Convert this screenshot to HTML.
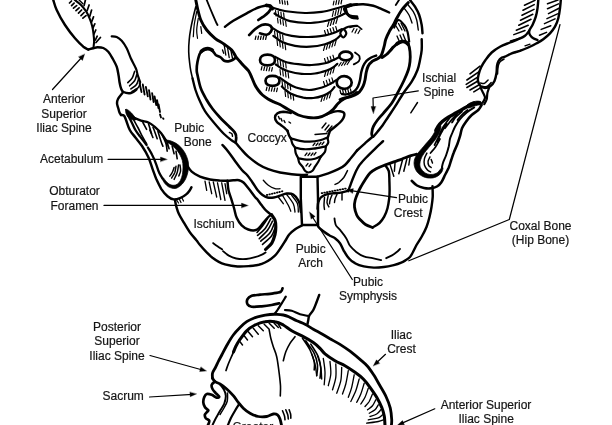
<!DOCTYPE html>
<html><head><meta charset="utf-8"><title>Pelvis</title>
<style>
html,body{margin:0;padding:0;background:#fff;}
body{width:612px;height:425px;overflow:hidden;}
svg{display:block;will-change:transform;}
svg text{font-family:"Liberation Sans",sans-serif;font-size:12px;fill:#151515;stroke:#151515;stroke-width:0.2px;}
.ink path{fill:none;stroke:#000;stroke-linecap:round;stroke-linejoin:round;}
.ink path.f{fill:#000;}
</style></head><body>
<svg width="612" height="425" viewBox="0 0 612 425">
<rect width="612" height="425" fill="#fff"/>
<g class="ink">
<path d="M53.3 0.0C53.9 1.7 54.7 5.8 56.7 10.0C58.6 14.2 61.9 20.3 65.0 25.0C68.1 29.7 71.9 34.7 75.0 38.3C78.1 41.9 81.1 44.8 83.3 46.7C85.6 48.5 87.5 49.0 88.3 49.5" stroke-width="2.44"/>
<path d="M74.8 0.0C75.8 0.8 79.1 3.1 81.0 5.0C82.9 6.9 84.5 9.0 86.0 11.2C87.5 13.5 88.7 16.2 89.8 18.8C90.8 21.2 91.6 23.8 92.2 26.2C92.9 28.8 93.2 31.2 93.5 33.8C93.8 36.2 94.1 39.0 94.1 41.2C94.1 43.5 93.6 46.5 93.5 47.5" stroke-width="2.07"/>
<path d="M71.6 5.6L74.1 3.1M73.5 8.1L76.6 5.6M76.0 10.6L79.1 7.8M78.5 13.1L81.6 10.0M81.0 15.6L84.1 12.5M82.9 18.1L86.0 15.6M69.5 3.0L71.5 1.0" stroke-width="1.71"/>
<path d="M85.4 0.0L84.1 5.6M89.1 5.0L87.2 10.6M91.6 10.0L89.8 16.2M93.5 16.9L91.6 21.9M94.8 23.8L92.9 28.1M95.8 30.0L94.0 34.0M97.2 36.2L95.4 40.0M100.4 37.5L96.0 42.5" stroke-width="1.71"/>
<path d="M79.1 0.0L82.9 3.8" stroke-width="1.46"/>
<path d="M88.3 49.5C89.1 49.3 91.8 48.7 93.3 48.3C94.8 47.9 95.8 47.2 97.5 47.2C99.2 47.2 101.5 47.2 103.3 48.0C105.1 48.8 106.8 50.0 108.3 51.7C109.8 53.4 111.1 55.8 112.5 58.3C113.9 60.8 115.7 63.9 116.7 66.7C117.7 69.5 118.0 72.5 118.5 75.0C119.0 77.5 119.1 79.8 119.5 82.0C119.9 84.2 120.3 86.6 121.0 88.3C121.7 90.0 121.8 91.2 123.5 92.0C125.2 92.8 128.8 93.4 131.0 93.0C133.2 92.6 135.6 90.1 136.5 89.5" stroke-width="2.44"/>
<path d="M111.7 36.3C112.5 36.4 115.0 36.2 116.7 37.0C118.4 37.8 120.0 38.9 121.7 40.8C123.4 42.7 125.2 45.4 126.7 48.3C128.2 51.2 129.3 55.0 130.8 58.3C132.3 61.6 134.7 65.5 135.8 68.3C137.0 71.1 137.0 72.8 137.7 75.0C138.4 77.2 139.6 80.6 140.0 81.7" stroke-width="2.20"/>
<path d="M127.8 82.6C128.5 81.9 131.0 80.1 132.1 78.2C133.2 76.4 134.2 72.5 134.6 71.4M129.6 85.8C130.4 84.9 133.4 82.6 134.6 80.8C135.8 78.9 136.4 75.5 136.8 74.5M130.9 88.9C131.8 88.2 135.2 86.3 136.5 84.5C137.8 82.7 138.4 79.3 138.8 78.2M132.1 91.4C133.2 90.8 137.0 89.2 138.4 87.6C139.8 86.0 140.2 82.9 140.5 82.0" stroke-width="1.59"/>
<path d="M139.6 83.2L141.5 92.0M142.8 84.5L144.6 94.5M145.9 87.0L147.8 96.4M149.0 90.1L150.5 99.5M152.1 93.2L153.6 102.0M154.6 96.4L156.2 105.1M157.1 100.1L158.4 108.2M158.6 104.5L160.0 112.0M160.0 114.4L161.0 117.5M163.0 118.2L163.5 118.9" stroke-width="1.83"/>
<path d="M122.5 93.0C121.8 94.0 118.9 97.3 118.0 99.0C117.1 100.7 117.0 101.8 117.0 103.3C117.0 104.8 117.9 106.8 118.3 108.3C118.7 109.8 119.0 111.4 119.5 112.5C120.0 113.6 120.8 114.6 121.0 115.0" stroke-width="2.44"/>
<path d="M121.0 115.0C121.5 115.1 123.2 114.8 124.0 115.6C124.8 116.4 125.0 117.6 126.0 120.0C127.0 122.4 128.2 127.1 129.8 130.0C131.3 132.9 133.4 134.8 135.4 137.5C137.4 140.2 139.8 142.7 142.0 146.0C144.2 149.3 146.8 153.7 148.5 157.5C150.2 161.3 151.2 165.2 152.5 168.8C153.8 172.3 154.8 175.4 156.2 178.8C157.7 182.1 159.4 185.8 161.2 188.8C163.1 191.7 165.4 194.5 167.5 196.2C169.6 198.0 171.7 199.1 173.8 199.4C175.8 199.7 177.9 198.9 180.0 198.1C182.1 197.3 184.6 195.8 186.2 194.4C187.9 193.1 189.1 191.2 190.0 190.0C190.9 188.8 191.2 187.7 191.5 187.2" stroke-width="2.44"/>
<path d="M125.6 109.4C125.9 108.7 127.4 109.6 128.3 110.2C129.2 110.8 130.4 111.8 131.3 112.8C132.2 113.8 133.1 114.9 134.0 116.0C134.9 117.1 136.5 118.5 136.5 119.2C136.5 119.9 134.9 120.0 134.0 120.0C133.1 120.0 131.9 119.8 131.0 119.3C130.1 118.8 129.1 118.1 128.3 117.3C127.5 116.5 126.8 115.5 126.3 114.2C125.8 112.9 125.3 110.1 125.6 109.4Z" class="f" stroke-width="0.73"/>
<path d="M134.0 117.8C135.2 118.3 138.6 119.8 141.0 120.6C143.4 121.4 146.2 121.5 148.5 122.5C150.8 123.5 152.7 125.1 154.8 126.9C156.8 128.7 159.1 130.8 161.0 133.1C162.9 135.4 165.2 139.3 166.0 140.5" stroke-width="2.32"/>
<path d="M166.0 140.0C166.8 139.9 169.3 140.4 171.0 141.0C172.7 141.6 174.4 142.3 176.0 143.3C177.6 144.3 179.3 145.6 180.8 147.2C182.3 148.8 183.8 150.9 185.0 153.0C186.2 155.1 187.2 157.8 187.8 160.0C188.4 162.2 188.6 163.9 188.6 166.0C188.6 168.1 188.3 170.3 187.8 172.5C187.3 174.7 186.6 177.0 185.6 179.0C184.6 181.0 183.3 182.9 182.0 184.3C180.7 185.8 178.9 187.0 177.5 187.7C176.1 188.4 175.0 188.7 173.5 188.5C172.0 188.3 170.0 187.7 168.5 186.8C167.0 185.9 165.6 184.4 164.5 183.0C163.4 181.6 162.2 179.3 162.0 178.5C161.8 177.7 162.8 177.4 163.5 178.0C164.2 178.6 165.4 180.7 166.5 181.8C167.6 182.9 168.8 184.0 170.0 184.6C171.2 185.2 172.8 185.4 174.0 185.3C175.2 185.2 176.4 184.8 177.5 184.0C178.6 183.2 179.7 181.9 180.5 180.3C181.3 178.7 182.0 176.7 182.4 174.5C182.8 172.3 183.0 169.3 183.0 167.0C183.0 164.7 182.8 162.4 182.3 160.5C181.9 158.6 181.1 157.1 180.3 155.5C179.5 153.9 178.6 152.4 177.5 151.0C176.4 149.6 175.1 148.2 173.8 147.0C172.6 145.8 171.3 144.9 170.0 144.0C168.7 143.1 166.7 142.3 166.0 141.6C165.3 140.9 165.2 140.1 166.0 140.0Z" class="f" stroke-width="0.73"/>
<path d="M128.5 116.2C129.1 117.4 130.8 120.7 132.0 123.0C133.2 125.3 134.1 127.8 135.4 130.0C136.7 132.2 138.2 134.2 139.8 136.2C141.3 138.3 143.6 141.0 144.8 142.5C145.9 144.0 146.3 144.6 146.6 145.0" stroke-width="2.32"/>
<path d="M147.9 147.5C148.6 148.8 150.9 152.3 152.2 155.0C153.6 157.7 154.9 160.8 156.0 163.8C157.1 166.7 158.0 170.0 159.1 172.5C160.2 175.0 161.9 177.5 162.5 178.5" stroke-width="2.32"/>
<path d="M133.5 119.4C134.2 120.8 136.4 124.7 137.9 127.5C139.4 130.3 140.8 133.5 142.2 136.2C143.7 139.0 145.9 142.5 146.6 143.8" stroke-width="1.59"/>
<path d="M142.9 122.5L146.6 129.4M148.5 123.8L151.6 133.8M153.0 127.5C153.2 127.9 153.4 128.1 154.1 130.0C154.8 131.9 156.7 137.3 157.2 138.8M157.9 131.2C158.4 132.9 160.2 138.8 161.0 141.2C161.8 143.8 162.6 145.4 162.9 146.2M162.2 135.0C162.9 136.5 165.2 141.0 166.0 143.8C166.8 146.5 167.0 150.0 167.2 151.2M167.2 142.5L169.1 148.8M172.2 146.2L174.1 153.8M176.0 151.2L177.2 158.8" stroke-width="1.59"/>
<path d="M149.8 130.0L152.9 137.5" stroke-width="1.59"/>
<path d="M169.8 176.2C170.2 175.6 171.5 174.0 172.2 172.5C173.0 171.0 173.8 168.3 174.1 167.5M171.6 178.1C172.1 177.2 174.0 174.5 174.8 172.5C175.5 170.5 175.8 167.3 176.0 166.2M174.1 179.4C174.6 178.2 176.5 174.9 177.2 172.5C178.0 170.1 178.3 166.2 178.5 165.0M180.0 165.0C180.1 166.0 180.8 169.2 180.6 171.0C180.4 172.8 179.1 175.2 178.8 176.0" stroke-width="1.46"/>
<path d="M272.5 7.6C273.6 7.9 276.4 8.9 279.0 9.6C281.6 10.2 284.0 10.9 288.3 11.5C292.6 12.1 299.4 12.9 305.0 13.0C310.6 13.1 316.7 12.6 321.7 11.9C326.7 11.2 331.3 9.8 335.0 8.8C338.7 7.8 342.5 6.5 344.0 6.0" stroke-width="2.20"/>
<path d="M274.5 13.5C275.6 14.2 278.4 16.2 281.0 17.5C283.6 18.8 285.7 20.3 290.0 21.2C294.3 22.1 301.5 22.9 307.0 23.0C312.5 23.1 318.5 22.2 323.0 21.5C327.5 20.8 330.8 19.6 334.0 18.5C337.2 17.4 340.0 15.9 342.0 15.0C344.0 14.1 345.3 13.3 346.0 13.0" stroke-width="2.20"/>
<path d="M271.7 27.5C273.1 28.3 276.7 31.1 280.0 32.5C283.3 33.9 287.0 35.0 291.7 35.8C296.4 36.5 302.8 37.1 308.3 37.0C313.9 36.9 320.6 36.0 325.0 35.3C329.4 34.5 332.2 33.5 335.0 32.5C337.8 31.5 340.6 29.8 341.7 29.2" stroke-width="2.20"/>
<path d="M273.3 35.8C274.7 36.8 278.1 40.0 281.7 41.7C285.3 43.4 290.3 45.0 295.0 45.8C299.7 46.6 305.0 47.0 310.0 46.7C315.0 46.4 320.8 45.3 325.0 44.2C329.2 43.1 332.5 41.4 335.0 40.0C337.5 38.6 339.2 36.5 340.0 35.8" stroke-width="2.20"/>
<path d="M275.0 56.7C276.7 57.5 281.1 60.5 285.0 61.7C288.9 63.0 293.9 63.7 298.3 64.2C302.8 64.8 307.2 65.2 311.7 65.0C316.1 64.8 321.4 64.1 325.0 63.3C328.6 62.5 331.1 61.0 333.3 60.0C335.5 59.0 337.5 57.9 338.3 57.5" stroke-width="2.20"/>
<path d="M275.8 64.5C276.7 65.1 278.9 66.9 281.0 68.0C283.1 69.1 284.9 70.2 288.3 71.2C291.8 72.2 297.2 73.4 301.7 73.8C306.1 74.2 310.8 74.0 315.0 73.5C319.2 73.0 323.7 71.5 326.7 70.5C329.7 69.5 331.2 68.6 333.0 67.5C334.8 66.4 336.6 64.4 337.3 63.8" stroke-width="2.20"/>
<path d="M279.5 77.5C280.8 78.4 284.2 81.1 287.0 82.8C289.8 84.5 292.3 86.3 296.0 87.5C299.7 88.7 304.7 90.0 309.0 90.0C313.3 90.0 318.3 88.6 322.0 87.5C325.7 86.4 328.6 84.8 331.0 83.5C333.4 82.2 335.6 80.6 336.5 80.0" stroke-width="2.20"/>
<path d="M281.8 86.5C283.2 87.7 286.9 91.7 290.5 93.5C294.1 95.3 299.5 96.8 303.3 97.6C307.1 98.3 310.0 98.3 313.3 98.0C316.6 97.7 320.5 96.6 323.3 95.6C326.1 94.6 328.1 93.4 330.0 92.0C331.9 90.6 333.8 87.8 334.5 87.0" stroke-width="2.20"/>
<path d="M266.5 5.4C267.1 5.5 269.0 5.5 270.0 6.0C271.0 6.5 271.9 8.2 272.3 8.6" stroke-width="3.66"/>
<path d="M258.3 20.0C259.1 19.4 261.6 17.9 263.3 16.7C265.0 15.4 267.0 13.9 268.3 12.5C269.6 11.1 270.6 9.0 271.0 8.3" stroke-width="2.68"/>
<path d="M249.2 35.0C250.2 34.0 252.9 30.9 255.0 29.2C257.1 27.5 259.5 25.8 261.7 25.0C263.9 24.2 266.6 24.3 268.3 24.7C270.0 25.1 271.3 26.3 271.7 27.5C272.1 28.7 271.6 30.5 270.8 31.7C270.0 32.9 268.5 34.4 266.7 34.7C264.9 35.0 261.1 33.5 260.0 33.3" stroke-width="2.68"/>
<path d="M267.5 54.7C269.3 54.7 271.8 55.1 273.0 56.0C274.2 56.9 275.0 58.7 275.0 60.0C275.0 61.3 274.2 63.1 273.0 64.0C271.8 64.9 269.3 65.3 267.5 65.3C265.7 65.3 263.2 64.9 262.0 64.0C260.8 63.1 260.0 61.3 260.0 60.0C260.0 58.7 260.8 56.9 262.0 56.0C263.2 55.1 265.7 54.7 267.5 54.7Z" stroke-width="2.68"/>
<path d="M272.5 75.8C274.2 75.8 276.3 76.2 277.5 77.0C278.7 77.8 279.5 79.5 279.5 80.8C279.5 82.1 278.7 83.8 277.5 84.6C276.3 85.4 274.2 85.8 272.5 85.8C270.8 85.8 268.7 85.4 267.5 84.6C266.3 83.8 265.5 82.1 265.5 80.8C265.5 79.5 266.3 77.8 267.5 77.0C268.7 76.2 270.8 75.8 272.5 75.8Z" stroke-width="2.68"/>
<path d="M350.5 5.0C349.8 5.2 347.4 5.6 346.5 6.2C345.6 6.8 345.1 8.4 344.8 8.8" stroke-width="3.66"/>
<path d="M357.0 4.2L350.0 5.0" stroke-width="2.44"/>
<path d="M357.0 16.7C355.8 16.6 351.8 16.5 350.0 15.8C348.2 15.1 347.0 13.6 346.0 12.5C345.0 11.4 344.5 9.8 344.2 9.2" stroke-width="2.68"/>
<path d="M343.3 29.2C344.3 29.2 346.3 31.9 346.3 33.3C346.3 34.7 344.3 37.5 343.3 37.5C342.3 37.5 340.3 34.7 340.3 33.3C340.3 31.9 342.3 29.2 343.3 29.2Z" stroke-width="2.20"/>
<path d="M357.0 25.8C355.6 25.9 350.6 26.1 348.3 26.7C346.0 27.3 344.1 28.8 343.3 29.2" stroke-width="2.20"/>
<path d="M345.8 51.6C347.3 51.6 349.3 52.1 350.4 52.8C351.5 53.5 352.3 54.9 352.3 56.0C352.3 57.1 351.5 58.5 350.4 59.2C349.3 59.9 347.3 60.4 345.8 60.4C344.3 60.4 342.3 59.9 341.2 59.2C340.1 58.5 339.3 57.1 339.3 56.0C339.3 54.9 340.1 53.5 341.2 52.8C342.3 52.1 344.3 51.6 345.8 51.6Z" stroke-width="2.68"/>
<path d="M344.2 76.2C346.0 76.2 348.2 77.0 349.5 78.0C350.8 79.0 351.7 81.0 351.7 82.5C351.7 84.0 350.8 86.0 349.5 87.0C348.2 88.0 346.0 88.8 344.2 88.8C342.4 88.8 340.1 88.0 338.9 87.0C337.6 86.0 336.7 84.0 336.7 82.5C336.7 81.0 337.6 79.0 338.9 78.0C340.1 77.0 342.4 76.2 344.2 76.2Z" stroke-width="2.68"/>
<path d="M195.8 0.0C196.1 1.4 196.7 5.0 197.5 8.3C198.3 11.6 199.3 16.4 200.8 20.0C202.3 23.6 204.3 26.9 206.7 30.0C209.1 33.0 212.1 35.9 215.0 38.3C217.9 40.7 221.4 42.2 224.2 44.2C227.0 46.2 229.8 48.0 231.7 50.0C233.6 52.0 234.5 54.5 235.5 56.0C236.5 57.5 236.2 57.2 237.5 58.8C238.8 60.2 241.1 62.9 243.0 65.0C244.9 67.1 247.2 69.1 248.8 71.2C250.2 73.4 251.0 75.7 252.0 78.0C253.0 80.3 253.9 82.9 255.0 85.0C256.1 87.1 257.2 88.8 258.5 90.5C259.8 92.2 260.9 93.6 262.5 95.0C264.1 96.4 266.1 97.8 268.0 99.0C269.9 100.2 271.8 101.0 273.8 101.9C275.8 102.8 277.6 103.2 280.0 104.5C282.4 105.8 285.2 107.8 288.3 109.5C291.4 111.2 295.0 113.7 298.3 115.0C301.6 116.3 305.0 117.1 308.3 117.5C311.6 117.9 315.2 118.0 318.3 117.5C321.4 117.0 324.2 115.6 326.7 114.2C329.2 112.8 331.4 111.0 333.3 109.2C335.2 107.4 336.4 105.1 338.3 103.3C340.2 101.5 342.5 99.7 345.0 98.3C347.5 96.9 351.3 96.0 353.3 95.0C355.3 94.0 356.4 92.9 357.0 92.5" stroke-width="2.93"/>
<path d="M195.8 6.7C195.4 8.4 194.1 13.1 193.3 16.7C192.5 20.3 191.5 24.4 190.8 28.3C190.1 32.2 189.5 36.1 189.2 40.0C188.8 43.9 188.6 47.8 188.7 51.7C188.8 55.6 189.3 60.1 189.7 63.3C190.0 66.5 190.3 68.3 190.8 70.8C191.3 73.3 192.2 77.0 192.5 78.3" stroke-width="1.59"/>
<path d="M192.5 78.3C193.0 80.2 194.3 86.4 195.5 90.0C196.7 93.6 197.8 96.5 199.4 100.0C201.0 103.5 202.6 107.5 205.0 111.2C207.4 115.0 210.6 118.8 213.8 122.5C216.9 126.2 220.8 130.8 223.8 133.8C226.7 136.7 229.2 138.5 231.2 140.0C233.3 141.5 235.2 142.5 236.0 143.0" stroke-width="2.32"/>
<path d="M196.7 11.7C196.3 13.9 194.8 20.8 194.2 25.0C193.6 29.2 193.5 34.8 193.3 36.7M198.3 18.3C198.0 20.2 196.8 26.7 196.7 30.0C196.6 33.3 197.4 36.9 197.5 38.3M200.8 26.7L201.7 33.3" stroke-width="1.22"/>
<path d="M206.7 0.0C207.4 1.7 209.3 6.4 210.8 10.0C212.3 13.6 214.7 19.2 215.8 21.7C216.9 24.2 217.2 24.4 217.5 25.0" stroke-width="1.83"/>
<path d="M225.0 26.7C226.4 25.7 229.7 23.0 233.3 20.8C236.9 18.6 242.5 15.5 246.7 13.3C250.9 11.1 255.0 8.8 258.3 7.5C261.6 6.2 265.3 5.7 266.7 5.3" stroke-width="2.44"/>
<path d="M235.8 57.5C235.2 57.9 233.8 59.4 232.5 60.0C231.2 60.6 229.7 61.2 228.3 61.3C226.9 61.4 225.4 61.4 224.2 60.8C222.9 60.2 222.2 58.5 220.8 57.5C219.4 56.5 217.1 56.0 215.8 55.0C214.6 54.0 214.3 52.7 213.3 51.7C212.3 50.7 211.4 49.6 210.0 49.2C208.6 48.8 206.7 48.5 205.0 49.2C203.3 49.9 201.2 51.2 200.0 53.3C198.8 55.4 198.1 58.9 197.5 61.7C196.9 64.5 196.7 67.8 196.7 70.0C196.7 72.2 196.8 72.0 197.5 75.0C198.2 78.0 199.3 84.1 200.8 88.3C202.3 92.5 204.8 96.6 206.7 100.0C208.6 103.4 210.3 105.8 212.5 108.8C214.7 111.7 217.3 114.6 220.0 117.5C222.7 120.4 226.3 123.8 228.8 126.2C231.2 128.7 233.2 130.1 234.4 131.9C235.7 133.7 236.1 135.1 236.2 136.9C236.4 138.7 235.7 141.6 235.6 142.5" stroke-width="2.68"/>
<path d="M229.4 132.5C229.8 132.7 231.4 133.1 231.9 133.8C232.4 134.4 232.4 135.8 232.5 136.2" stroke-width="1.46"/>
<path d="M224.2 45.0L225.8 55.0M227.5 47.5L229.2 57.5M230.8 50.0L232.5 58.3M222.5 50.0L223.7 53.3" stroke-width="1.34"/>
<path d="M236.0 143.0C236.8 144.0 238.9 146.7 241.0 149.0C243.1 151.3 245.4 154.2 248.3 156.7C251.2 159.2 255.0 162.1 258.3 164.2C261.6 166.3 264.7 167.8 268.3 169.2C271.9 170.6 276.1 171.7 280.0 172.5C283.9 173.3 288.1 173.8 291.7 174.2C295.3 174.6 299.1 174.9 301.7 175.0C304.2 175.1 306.1 174.8 307.0 174.7" stroke-width="2.44"/>
<path d="M222.5 145.0C223.5 146.1 226.2 149.0 228.3 151.7C230.4 154.4 232.7 157.9 235.0 161.0C237.3 164.1 239.8 167.6 241.9 170.0C244.0 172.4 245.7 173.4 247.5 175.5C249.3 177.6 250.8 180.1 252.5 182.5C254.2 184.9 255.8 187.9 257.5 190.0C259.2 192.1 260.8 193.8 262.5 195.0C264.2 196.2 265.6 197.1 267.5 197.5C269.4 197.9 271.7 197.8 273.8 197.5C275.8 197.2 277.8 196.3 280.0 195.6C282.2 194.9 284.5 193.7 286.7 193.5C288.9 193.3 291.4 193.4 293.3 194.5C295.2 195.6 297.2 198.5 298.3 200.3C299.4 202.1 299.6 203.4 300.0 205.3C300.4 207.2 300.7 210.9 300.8 212.0" stroke-width="2.44"/>
<path d="M290.8 113.0C289.6 112.8 285.5 111.7 283.3 111.7C281.1 111.8 278.9 112.3 277.5 113.3C276.1 114.3 275.1 116.1 275.0 117.5C274.9 118.9 275.7 120.5 276.7 121.7C277.7 123.0 279.4 123.9 280.8 125.0C282.2 126.1 283.9 127.3 285.0 128.3C286.1 129.3 287.1 130.4 287.5 130.8" stroke-width="2.44"/>
<path d="M326.7 114.2C327.8 113.8 331.1 112.2 333.3 111.7C335.5 111.2 338.2 111.0 340.0 111.3C341.8 111.6 343.6 112.1 344.2 113.3C344.8 114.5 344.0 116.8 343.3 118.3C342.6 119.8 341.4 121.1 340.0 122.5C338.6 123.9 336.7 125.3 335.0 126.7C333.3 128.1 330.8 130.1 330.0 130.8" stroke-width="2.44"/>
<path d="M290.8 138.3C292.3 138.7 296.8 140.2 300.0 140.8C303.2 141.4 306.7 141.8 310.0 141.7C313.3 141.6 317.1 141.0 320.0 140.3C322.9 139.6 326.2 138.0 327.5 137.5" stroke-width="2.20"/>
<path d="M290.8 138.3C291.1 139.2 291.8 142.5 292.5 144.0C293.2 145.5 294.6 146.9 295.0 147.5" stroke-width="2.20"/>
<path d="M327.5 138.3C327.6 139.0 328.6 141.1 328.3 142.5C328.0 143.9 326.2 145.8 325.8 146.5" stroke-width="2.20"/>
<path d="M295.0 147.5C296.4 147.8 300.2 149.0 303.3 149.2C306.4 149.4 309.6 149.2 313.3 148.7C317.1 148.2 323.7 146.7 325.8 146.3" stroke-width="2.20"/>
<path d="M295.0 147.5C295.1 148.5 295.2 151.5 295.8 153.3C296.4 155.1 297.9 157.5 298.3 158.3" stroke-width="2.20"/>
<path d="M325.8 146.5C325.7 147.4 325.8 150.0 325.0 151.7C324.2 153.4 321.5 155.9 320.8 156.7" stroke-width="2.20"/>
<path d="M298.3 158.3C299.7 158.5 303.9 159.6 306.7 159.7C309.5 159.8 312.6 159.3 315.0 158.7C317.4 158.1 319.8 156.7 320.8 156.3" stroke-width="2.20"/>
<path d="M298.3 158.3C298.4 159.0 298.5 161.1 299.2 162.5C299.9 163.9 301.5 165.3 302.5 166.7C303.5 168.1 304.0 169.8 305.0 170.8C306.0 171.8 307.1 172.5 308.3 172.5C309.6 172.5 311.4 171.8 312.5 170.8C313.6 169.8 314.0 168.2 315.0 166.7C316.0 165.2 317.3 163.4 318.3 161.7C319.3 160.0 320.4 157.5 320.8 156.7" stroke-width="2.20"/>
<path d="M287.5 130.8C287.8 131.6 288.6 134.6 289.2 135.8C289.8 137.1 290.5 137.9 290.8 138.3" stroke-width="2.44"/>
<path d="M330.0 130.8C329.7 131.6 328.7 134.6 328.3 135.8C327.9 137.1 327.6 137.9 327.5 138.3" stroke-width="2.44"/>
<path d="M278.5 116.5L279.5 119.0M281.0 118.5L282.0 121.0M284.0 120.5L285.0 122.5M289.0 122.0L290.5 123.0" stroke-width="1.46"/>
<path d="M322.0 128.0L326.0 123.0M325.0 130.0L329.0 125.0M327.0 132.0L332.0 126.0M315.0 134.5L327.0 133.5" stroke-width="1.34"/>
<path d="M313.0 145.5L315.0 143.0M316.0 145.5L318.0 143.0M319.0 145.0L321.0 142.5M322.0 144.5L324.0 142.0" stroke-width="1.22"/>
<path d="M305.0 155.5L307.0 153.0M308.0 155.5L310.0 153.0M311.0 155.5L313.0 153.0M314.0 155.0L316.0 152.5" stroke-width="1.22"/>
<path d="M306.0 166.0L308.0 163.5M309.0 166.5L311.0 164.0" stroke-width="1.22"/>
<path d="M300.8 176.7L300.8 198.3L302.0 225.0L318.0 225.0L318.0 198.3L317.5 176.7L300.8 176.7" stroke-width="2.44"/>
<path d="M317.5 176.7C319.3 176.1 324.8 174.6 328.3 173.3C331.8 172.1 335.5 170.6 338.3 169.2C341.1 167.8 342.9 166.9 345.0 165.0C347.1 163.1 349.0 160.4 351.0 158.0C353.0 155.6 356.0 151.8 357.0 150.5" stroke-width="2.44"/>
<path d="M186.7 165.0C187.5 166.1 189.5 169.8 191.7 171.7C193.9 173.6 196.9 175.4 200.0 176.7C203.1 178.0 206.7 178.8 210.0 179.5C213.3 180.2 217.1 180.4 220.0 180.6C222.9 180.8 225.3 180.9 227.5 180.8C229.7 180.8 231.4 180.4 233.3 180.3C235.2 180.2 237.3 179.8 239.0 180.2C240.7 180.6 241.9 181.1 243.5 182.5C245.1 183.9 246.8 186.3 248.8 188.8C250.7 191.2 253.5 195.2 255.0 197.0C256.5 198.8 256.4 198.1 257.5 199.5C258.6 200.9 260.2 203.4 261.7 205.3C263.2 207.2 265.0 209.6 266.7 211.2C268.4 212.8 270.9 214.4 271.7 215.0" stroke-width="2.44"/>
<path d="M227.5 180.8C227.7 182.4 227.8 187.1 228.5 190.3C229.2 193.6 230.8 197.2 231.7 200.3C232.6 203.4 233.4 205.8 234.2 208.7C235.0 211.6 235.4 215.0 236.7 217.8C237.9 220.6 239.8 223.4 241.7 225.3C243.6 227.2 246.1 228.7 248.3 229.5C250.5 230.3 253.2 230.6 255.0 230.3C256.8 230.0 257.8 229.1 259.2 227.8C260.6 226.6 261.8 224.6 263.3 222.8C264.8 221.0 266.9 218.4 268.3 217.0C269.7 215.6 271.1 214.9 271.7 214.5" stroke-width="2.44"/>
<path d="M271.7 215.0C272.2 215.9 274.3 218.3 275.0 220.3C275.7 222.3 275.8 224.6 275.8 227.0C275.8 229.4 275.7 231.8 275.0 234.5C274.3 237.2 273.3 240.8 271.8 243.2C270.2 245.8 266.5 248.5 265.5 249.5" stroke-width="3.17"/>
<path d="M257.5 235.3C258.8 234.2 262.8 231.5 265.0 228.7C267.2 225.9 269.8 220.4 270.8 218.7M259.2 238.7C260.6 237.3 265.3 233.2 267.5 230.3C269.7 227.4 271.7 222.7 272.5 221.2M260.8 241.2C262.3 239.8 267.8 235.7 270.0 232.8C272.2 229.9 273.5 225.2 274.2 223.7M262.5 244.5C264.0 243.1 269.4 238.8 271.5 236.0C273.6 233.2 274.4 229.3 275.0 228.0M257.0 232.5C257.9 231.4 260.8 228.3 262.5 226.0C264.2 223.7 266.7 219.8 267.5 218.5" stroke-width="1.59"/>
<path d="M263.3 180.3C264.1 181.1 266.4 183.9 268.3 185.3C270.2 186.7 273.1 188.1 275.0 188.7C276.9 189.3 279.2 188.7 280.0 188.7" stroke-width="1.34"/>
<path d="M266.9 195.0L267.4 194.9M269.4 194.4L269.9 194.3M271.9 193.8L272.4 193.7M274.4 193.2L274.9 193.1M276.9 192.6L277.4 192.5M279.4 192.0L279.9 191.9M281.9 191.4L282.4 191.3" stroke-width="1.83"/>
<path d="M278.3 197.0L283.3 203.7M282.5 195.3C283.5 197.0 286.9 202.7 288.3 205.3C289.7 208.0 290.4 210.2 290.8 211.2M286.7 194.5C287.8 196.0 291.9 200.8 293.3 203.7C294.7 206.6 294.7 210.6 295.0 212.0M291.7 195.3C292.7 196.7 296.4 200.9 297.5 203.7C298.6 206.5 298.2 210.6 298.3 212.0" stroke-width="1.34"/>
<path d="M205.0 181.2L206.7 190.3M209.2 182.0L211.7 193.7M213.3 182.0L216.7 197.0M217.5 182.8L220.8 199.5M221.7 182.8L225.0 200.3M225.0 183.7L226.7 193.7" stroke-width="1.34"/>
<path d="M175.0 200.0C175.2 201.0 175.6 204.0 176.2 206.2C176.9 208.5 177.5 211.0 178.8 213.8C180.0 216.5 181.9 219.4 183.8 222.5C185.6 225.6 187.9 229.6 190.0 232.5C192.1 235.4 194.6 237.9 196.2 240.0C197.9 242.1 198.3 243.0 200.0 245.0C201.7 247.0 204.2 249.8 206.2 251.9C208.3 254.0 210.4 256.1 212.5 257.8C214.6 259.4 216.7 260.8 218.8 261.9C220.8 263.0 221.9 263.6 225.0 264.4C228.1 265.2 233.3 266.2 237.5 266.5C241.7 266.8 246.5 266.3 250.0 266.0C253.5 265.7 256.2 265.3 258.8 264.8C261.2 264.2 262.9 263.5 265.0 262.5C267.1 261.5 269.4 260.1 271.2 258.8C273.1 257.4 274.4 256.4 276.0 254.5C277.6 252.6 279.4 249.8 281.0 247.5C282.6 245.2 284.1 242.7 285.5 240.5C286.9 238.3 287.6 236.4 289.2 234.5C290.9 232.6 293.4 230.5 295.5 229.0C297.6 227.5 300.9 226.1 302.0 225.5" stroke-width="2.44"/>
<path d="M213.1 243.1C213.8 243.6 216.0 245.2 217.5 246.2C219.0 247.3 221.5 248.9 222.2 249.4" stroke-width="1.83"/>
<path d="M223.1 251.2C224.0 252.0 226.6 254.4 228.8 255.6C230.9 256.8 233.3 257.9 236.2 258.5C239.2 259.1 243.1 259.2 246.2 259.0C249.4 258.8 252.3 258.0 255.0 257.2C257.7 256.5 260.7 255.2 262.5 254.4C264.3 253.6 265.1 252.8 265.6 252.5" stroke-width="1.83"/>
<path d="M176.0 199.0L178.5 203.0M179.0 198.5L181.0 202.5M182.0 198.0L183.5 201.0" stroke-width="1.22"/>
<path d="M321.6 193.2L322.4 193.1M324.2 192.7L325.0 192.6M326.8 192.2L327.6 192.1M329.4 191.7L330.2 191.6M332.0 191.2L332.8 191.1M334.6 190.7L335.4 190.6M337.2 190.2L338.0 190.1M339.8 189.7L340.6 189.6M342.4 189.2L343.2 189.1M345.0 188.7L345.8 188.6" stroke-width="1.71"/>
<path d="M335.0 184.4C335.6 184.1 337.3 183.7 338.8 182.5C340.2 181.3 342.3 179.5 343.8 177.5C345.2 175.5 346.9 171.8 347.5 170.6" stroke-width="1.46"/>
<path d="M317.6 208.8C317.7 207.7 317.7 204.4 318.2 202.5C318.8 200.6 319.5 198.8 320.8 197.5C322.0 196.2 323.7 195.3 325.8 194.6C327.8 193.9 330.8 193.6 333.2 193.3C335.8 193.0 338.7 192.9 340.8 192.6C342.8 192.3 344.5 191.8 345.8 191.4C347.0 191.0 347.8 190.4 348.2 190.2" stroke-width="2.44"/>
<path d="M324.5 197.5C324.4 198.8 324.0 203.0 324.0 205.0C324.0 207.0 324.4 208.7 324.5 209.4M328.2 195.6C328.0 196.8 326.9 200.6 327.0 202.5C327.1 204.4 328.6 206.2 328.9 206.9M332.0 195.0C331.7 195.8 330.5 198.5 330.1 200.0C329.7 201.5 329.6 203.1 329.5 203.8M337.0 194.4C336.7 195.1 335.5 197.4 335.1 198.8C334.7 200.1 334.6 201.9 334.5 202.5M342.0 193.1L342.0 200.0" stroke-width="1.46"/>
<path d="M345.0 7.5C346.4 7.1 350.2 5.5 353.3 5.0C356.4 4.5 360.0 4.1 363.3 4.2C366.6 4.3 370.2 5.0 373.3 5.8C376.4 6.6 379.1 8.1 381.7 9.2C384.3 10.3 387.9 11.9 389.2 12.5" stroke-width="2.44"/>
<path d="M345.8 9.2C346.1 10.0 346.5 12.8 347.5 14.2C348.5 15.6 350.0 16.8 351.7 17.5C353.4 18.2 356.5 18.2 357.5 18.3" stroke-width="2.68"/>
<path d="M350.0 27.5C351.1 27.2 354.8 25.5 356.7 25.8C358.6 26.1 360.9 28.6 361.7 29.2" stroke-width="1.59"/>
<path d="M352.0 32.0L354.0 28.5M355.0 33.0L357.0 29.0M358.0 33.5L360.0 30.0" stroke-width="1.22"/>
<path d="M355.0 52.5C355.7 53.1 358.8 54.8 359.4 56.2C360.0 57.7 359.7 59.9 358.8 61.2C357.8 62.6 354.6 63.9 353.8 64.4" stroke-width="1.83"/>
<path d="M338.8 66.0L341.1 62.5M341.6 65.5L343.9 62.0M344.4 65.0L346.7 61.5M347.2 64.5L349.5 61.0" stroke-width="1.22"/>
<path d="M408.3 2.5C407.2 3.8 403.6 7.4 401.7 10.0C399.8 12.6 398.1 15.8 396.7 18.3C395.3 20.8 394.6 22.8 393.3 25.0C392.1 27.2 390.4 29.3 389.2 31.7C387.9 34.1 386.6 37.0 385.8 39.2C385.0 41.4 385.0 43.0 384.5 45.0C384.0 47.0 383.4 49.4 382.8 51.2C382.2 53.1 381.7 55.0 380.8 56.2C379.9 57.5 378.9 57.9 377.5 58.8C376.1 59.6 374.1 60.0 372.5 61.2C370.9 62.5 369.1 64.4 368.1 66.2C367.1 68.1 366.8 70.2 366.2 72.5C365.7 74.8 365.5 77.7 365.0 80.0C364.5 82.3 364.0 84.3 363.1 86.2C362.2 88.2 360.8 90.4 359.4 91.9C358.0 93.4 356.6 94.2 355.0 95.0C353.4 95.8 351.7 96.4 350.0 96.9C348.3 97.4 346.7 97.6 345.0 98.0C343.3 98.4 340.8 99.2 340.0 99.5" stroke-width="2.93"/>
<path d="M376.2 55.6C375.4 55.9 372.9 56.6 371.2 57.5C369.6 58.4 367.6 59.8 366.2 61.2C364.9 62.7 363.9 64.4 363.1 66.2C362.3 68.1 361.8 70.2 361.2 72.5C360.7 74.8 360.5 77.7 360.0 80.0C359.5 82.3 358.9 84.5 358.1 86.2C357.3 88.0 356.1 89.5 355.0 90.6C353.9 91.7 352.7 92.5 351.2 93.1C349.8 93.7 347.8 94.2 346.2 94.4C344.7 94.6 342.7 94.1 342.0 94.0" stroke-width="2.44"/>
<path d="M399.0 0.0L395.8 5.0" stroke-width="1.83"/>
<path d="M410.0 0.0C410.8 1.1 413.5 4.2 415.0 6.7C416.5 9.2 418.1 11.9 419.2 15.0C420.3 18.1 421.1 21.9 421.7 25.0C422.2 28.1 422.4 31.9 422.5 33.3" stroke-width="2.44"/>
<path d="M421.7 39.2C421.7 41.0 422.0 46.5 421.7 50.0C421.4 53.5 420.7 56.7 420.0 60.0C419.3 63.3 418.9 66.4 417.5 70.0C416.1 73.6 414.1 77.8 411.7 81.7C409.3 85.6 406.1 89.1 403.3 93.3C400.5 97.5 397.5 102.8 395.0 106.7C392.5 110.6 390.4 113.6 388.3 116.7C386.2 119.8 384.3 123.0 382.5 125.5C380.7 128.0 379.0 129.8 377.5 131.7C376.0 133.6 374.0 135.9 373.3 136.7" stroke-width="2.44"/>
<path d="M407.5 4.2C408.5 5.5 411.8 9.1 413.3 11.7C414.8 14.3 415.9 16.9 416.7 20.0C417.5 23.1 418.0 28.3 418.3 30.0M404.0 8.0C404.8 9.2 407.7 12.5 409.0 15.0C410.3 17.5 411.5 21.7 412.0 23.0" stroke-width="1.34"/>
<path d="M392.5 46.5L387.5 53.0" stroke-width="1.22"/>
<path d="M397.0 43.8C397.7 43.4 399.7 42.0 401.0 41.7C402.3 41.4 403.8 41.4 405.0 41.8C406.2 42.2 407.5 43.6 408.0 44.0" stroke-width="3.66"/>
<path d="M382.0 57.5C382.8 57.0 385.2 55.6 386.5 54.5C387.8 53.4 388.8 52.2 390.0 51.0C391.2 49.8 392.3 48.2 393.5 47.0C394.7 45.8 395.8 44.7 397.0 43.8C398.2 42.9 399.8 42.1 401.0 41.8C402.2 41.4 403.3 41.3 404.5 41.7C405.7 42.1 407.4 42.5 408.3 44.2C409.2 45.9 409.7 48.8 410.0 51.7C410.3 54.6 410.3 58.7 410.0 61.7C409.7 64.8 409.3 67.0 408.3 70.0C407.3 73.0 405.9 76.4 404.2 80.0C402.5 83.6 400.4 87.8 398.3 91.7C396.2 95.6 394.2 99.7 391.7 103.3C389.2 106.9 385.7 110.5 383.3 113.3C380.9 116.1 379.2 117.8 377.5 120.0C375.8 122.2 374.3 124.5 373.3 126.7C372.3 128.9 371.8 131.6 371.7 133.3C371.6 135.0 372.4 136.1 372.5 136.7" stroke-width="2.81"/>
<path d="M394.2 27.5C394.9 26.2 396.6 20.4 398.3 20.0C400.0 19.6 402.7 23.1 404.2 25.0C405.7 26.9 406.7 28.9 407.5 31.7C408.3 34.5 408.9 40.0 409.2 41.7" stroke-width="2.20"/>
<path d="M396.0 26.0L399.0 31.0M398.5 23.5L402.0 30.0M401.0 23.0L405.0 31.0M397.0 36.0L400.0 43.0M400.0 35.0L403.0 42.0M403.0 34.0L406.0 41.5" stroke-width="1.34"/>
<path d="M372.5 136.7C371.2 137.8 367.6 141.0 365.0 143.3C362.4 145.6 358.3 149.3 357.0 150.5" stroke-width="2.44"/>
<path d="M383.1 141.2C381.8 142.5 377.8 146.0 375.0 148.8C372.2 151.5 369.0 154.6 366.2 157.5C363.5 160.4 360.8 163.1 358.8 166.2C356.7 169.4 355.2 172.9 353.8 176.2C352.3 179.6 350.9 183.8 350.0 186.2C349.1 188.8 348.4 190.4 348.1 191.2" stroke-width="2.44"/>
<path d="M418.3 90.8L373.0 98.0L373.3 110.0" stroke-width="1.22"/>
<path d="M373.3 113.5L371.0 106.5L375.6 106.5Z" class="f" stroke-width="0.30"/>
<path d="M417.5 102.5L410.8 112.8" stroke-width="1.46"/>
<path d="M416.7 154.2C415.8 154.4 413.4 154.8 411.0 155.6C408.6 156.4 405.4 157.7 402.5 158.8C399.6 159.8 396.7 160.9 393.8 161.9C390.8 162.9 387.9 163.9 385.0 165.0C382.1 166.1 378.8 167.4 376.2 168.8C373.8 170.1 371.9 171.2 370.0 173.1C368.1 175.0 366.5 177.8 365.0 180.0C363.5 182.2 362.4 184.2 361.2 186.2C360.1 188.3 359.0 190.2 358.0 192.5C357.0 194.8 355.8 197.6 355.2 200.0C354.6 202.4 354.2 204.5 354.5 207.0C354.8 209.5 355.8 212.9 356.7 215.0C357.6 217.1 358.5 217.9 360.0 219.5C361.5 221.1 363.4 223.2 365.5 224.5C367.6 225.8 371.3 227.0 372.5 227.5" stroke-width="2.81"/>
<path d="M390.0 164.4L393.8 176.2M395.0 163.1L394.4 171.2M402.5 160.0L398.8 173.8M406.9 158.8L403.8 171.2M410.0 157.5L408.8 165.0" stroke-width="1.46"/>
<path d="M480.5 101.6C479.7 101.0 477.6 101.0 476.0 101.2C474.4 101.4 472.6 101.9 471.0 102.6C469.4 103.3 466.9 104.6 466.5 105.5C466.1 106.4 467.4 107.8 468.5 108.0C469.6 108.2 471.5 107.1 473.0 106.6C474.5 106.1 476.2 105.5 477.5 105.2C478.8 104.9 480.5 105.2 481.0 104.6C481.5 104.0 481.3 102.2 480.5 101.6Z" class="f" stroke-width="0.73"/>
<path d="M474.0 103.0C472.5 103.8 467.9 106.2 465.0 107.8C462.1 109.4 459.5 111.0 456.7 112.6C453.9 114.2 450.8 115.7 448.3 117.2C445.9 118.7 443.7 120.2 442.0 121.8C440.3 123.3 439.0 125.0 438.0 126.5C437.0 128.0 436.2 129.8 435.8 130.5" stroke-width="3.42"/>
<path d="M439.0 124.5C438.1 125.2 436.8 128.3 435.5 130.5C434.2 132.7 433.2 134.9 431.2 137.5C429.3 140.1 426.0 143.5 423.8 146.2C421.5 149.0 419.1 151.5 417.5 153.8C415.9 156.0 414.9 157.9 414.4 160.0C413.9 162.1 413.9 164.2 414.4 166.2C414.9 168.3 415.9 170.7 417.5 172.5C419.1 174.3 421.5 176.0 423.8 176.9C426.0 177.8 429.0 178.2 431.2 178.1C433.5 178.0 435.8 177.2 437.5 176.2C439.2 175.3 440.6 173.8 441.5 172.5C442.4 171.2 442.9 169.3 443.0 168.5C443.1 167.7 442.8 166.8 441.9 167.5C441.0 168.2 439.1 171.3 437.5 172.5C435.9 173.7 434.2 174.2 432.5 174.4C430.8 174.7 429.1 174.5 427.5 174.0C425.9 173.5 424.4 172.5 423.1 171.2C421.9 170.0 420.4 168.1 420.0 166.2C419.6 164.4 420.0 162.1 420.6 160.0C421.2 157.9 422.4 155.8 423.8 153.8C425.1 151.7 426.9 149.8 428.8 147.5C430.6 145.2 433.4 142.2 435.0 140.0C436.6 137.8 437.6 136.2 438.5 134.5C439.4 132.8 440.1 130.9 440.5 129.5C440.9 128.1 441.1 126.8 440.8 126.0C440.6 125.2 439.9 123.8 439.0 124.5Z" class="f" stroke-width="0.73"/>
<path d="M481.7 105.0C481.1 105.8 480.0 108.3 478.3 110.0C476.6 111.7 473.8 113.0 471.7 115.0C469.6 117.0 467.6 119.5 466.0 121.7C464.4 123.9 463.0 125.9 462.0 128.3C461.0 130.7 460.8 133.7 460.0 136.2C459.2 138.8 458.5 141.0 457.5 143.8C456.5 146.5 454.8 149.8 453.8 152.5C452.7 155.2 452.1 157.5 451.2 160.0C450.4 162.5 449.8 165.0 448.8 167.5C447.7 170.0 446.2 172.5 445.0 175.0C443.8 177.5 442.6 180.6 441.2 182.5C439.9 184.4 438.7 185.5 437.0 186.5C435.3 187.5 433.2 188.1 431.0 188.3C428.8 188.6 426.3 188.5 424.0 188.0C421.7 187.5 419.1 186.7 417.0 185.5C414.9 184.3 412.6 181.6 411.7 180.8" stroke-width="2.56"/>
<path d="M474.2 107.5C472.9 108.3 469.1 110.5 466.7 112.5C464.3 114.5 461.9 116.8 460.0 119.2C458.1 121.6 456.2 124.5 455.0 126.7C453.8 128.9 453.3 130.5 452.5 132.5C451.7 134.5 450.6 136.5 450.0 138.8C449.4 141.0 449.4 143.5 448.8 146.2C448.1 149.0 447.2 152.3 446.2 155.0C445.3 157.7 443.8 160.4 443.1 162.5C442.4 164.6 442.1 166.7 441.9 167.5" stroke-width="1.95"/>
<path d="M456.7 114.2C455.6 115.5 451.9 119.3 450.0 121.7C448.1 124.1 445.8 127.2 445.0 128.3M450.0 117.5C448.9 119.0 445.1 123.8 443.3 126.7C441.5 129.6 439.9 133.6 439.2 135.0M446.5 123.3C445.6 125.0 442.6 130.2 441.0 133.3C439.4 136.4 437.7 140.3 437.0 141.7M443.5 128.3C442.7 129.7 440.2 133.9 438.7 136.7C437.2 139.5 435.2 143.6 434.5 145.0M467.5 110.0C466.5 110.8 463.4 113.3 461.7 115.0C460.0 116.7 458.2 119.2 457.5 120.0M462.0 111.5C461.0 112.4 457.7 115.2 456.0 117.0C454.3 118.8 452.7 121.6 452.0 122.5M440.0 139.0C439.2 140.3 437.1 144.7 435.5 147.0C433.9 149.3 431.3 152.0 430.5 153.0" stroke-width="1.71"/>
<path d="M426.9 153.1C426.5 154.0 424.8 156.8 424.4 158.8C424.0 160.7 423.9 163.1 424.4 165.0C424.9 166.9 426.5 168.8 427.5 170.0C428.5 171.2 430.1 171.6 430.6 171.9M430.0 156.9C429.7 157.6 428.3 159.8 428.1 161.2C427.9 162.7 428.2 164.6 428.8 165.6C429.3 166.6 430.8 167.2 431.2 167.5M431.2 159.4L432.5 163.1" stroke-width="1.46"/>
<path d="M529.2 30.8C528.5 31.6 526.8 34.4 525.0 35.8C523.2 37.2 520.8 38.1 518.3 39.2C515.8 40.3 513.0 41.2 510.0 42.5C506.9 43.8 503.1 45.0 500.0 46.7C496.9 48.4 494.1 50.3 491.7 52.5C489.3 54.7 487.3 57.5 485.5 60.0C483.7 62.5 482.2 65.0 481.0 67.5C479.8 70.0 479.0 72.8 478.5 75.0C478.0 77.2 477.7 79.2 478.0 81.0C478.3 82.8 479.3 84.8 480.5 86.0C481.7 87.2 483.3 88.0 485.0 88.0C486.7 88.0 488.9 87.2 490.5 86.0C492.1 84.8 493.5 83.2 494.5 81.0C495.5 78.8 496.1 75.5 496.5 73.0C496.9 70.5 496.7 68.0 497.0 66.0C497.3 64.0 497.7 62.4 498.5 61.0C499.3 59.6 500.9 58.2 502.0 57.5C503.1 56.8 503.4 57.4 505.0 56.7C506.6 56.0 509.2 54.3 511.7 53.3C514.2 52.3 517.2 51.8 520.0 50.8C522.8 49.8 525.5 48.8 528.3 47.5C531.1 46.2 534.2 44.7 536.7 43.3C539.2 41.9 541.1 40.9 543.3 39.2C545.5 37.5 548.0 35.4 550.0 33.3C552.0 31.2 553.6 29.2 555.0 26.7C556.4 24.2 557.5 21.4 558.3 18.3C559.1 15.2 559.6 11.4 560.0 8.3C560.4 5.2 560.7 1.4 560.8 0.0" stroke-width="2.44"/>
<path d="M538.3 0.0C538.2 1.4 537.9 5.5 537.5 8.3C537.1 11.1 536.6 13.9 535.8 16.7C535.0 19.5 533.6 22.6 532.5 25.0C531.4 27.4 529.6 29.1 529.2 30.8C528.8 32.5 529.3 33.8 530.0 35.0C530.7 36.2 532.0 37.5 533.3 38.3C534.5 39.1 536.8 39.7 537.5 40.0" stroke-width="2.44"/>
<path d="M497.5 74.0C497.6 73.1 497.6 70.4 497.8 68.8C498.0 67.1 498.3 65.2 498.8 64.0C499.3 62.8 499.7 62.1 500.6 61.2C501.5 60.4 503.4 59.4 504.0 59.0" stroke-width="1.59"/>
<path d="M480.5 87.5C481.0 88.5 482.6 91.6 483.3 93.3C484.1 95.0 485.0 96.1 485.0 97.5C485.0 98.9 484.0 100.6 483.3 101.7C482.6 102.8 481.2 103.8 480.8 104.2" stroke-width="2.20"/>
<path d="M489.5 86.5C489.2 87.5 488.0 90.4 487.5 92.5C487.0 94.6 487.2 97.2 486.7 99.2C486.1 101.2 484.6 103.4 484.2 104.2" stroke-width="2.20"/>
<path d="M524.5 5.3L535.0 0.3M523.0 10.3L534.2 4.6M522.0 15.3L534.0 9.4M520.5 20.3L532.8 14.3M518.8 25.3L531.0 19.3M516.3 30.3L528.2 25.3M513.8 34.6L525.0 30.5M510.5 41.0L521.5 37.7" stroke-width="1.52"/>
<path d="M547.5 3.7L558.0 0.0M547.5 8.7L558.5 3.9M548.5 13.6L559.0 8.2M547.0 18.6L557.5 13.9M544.5 23.6L555.0 18.9M541.2 29.4L550.8 25.7M539.5 35.3L546.5 32.4" stroke-width="1.52"/>
<path d="M525.0 45.8L530.0 44.2M515.0 52.5L521.7 50.0" stroke-width="1.34"/>
<path d="M470.0 73.8L480.0 66.2M466.9 80.0L478.8 71.9M466.2 84.4L478.1 76.9M466.9 87.5L477.5 81.2M470.0 90.0L478.8 85.0M473.8 91.9L480.0 88.1" stroke-width="1.59"/>
<path d="M480.5 83.1C481.1 83.1 483.1 83.9 484.4 83.4C485.7 82.9 487.5 80.6 488.1 80.0M482.2 86.2C483.0 86.3 485.4 87.1 486.9 86.5C488.4 85.9 490.5 83.2 491.2 82.5" stroke-width="1.46"/>
<path d="M560.0 24.5L509.3 219.5L408.8 260.8" stroke-width="1.22"/>
<path d="M372.5 227.5C373.7 226.8 377.6 224.8 379.5 223.0C381.4 221.2 382.9 219.1 384.2 216.7C385.5 214.2 386.7 211.4 387.5 208.3C388.3 205.2 388.8 201.4 389.2 198.3C389.6 195.2 389.6 192.8 389.6 190.0C389.6 187.2 389.5 184.4 389.4 181.2C389.3 178.1 389.5 174.0 388.8 171.2C388.0 168.5 385.6 166.0 385.0 165.0" stroke-width="2.44"/>
<path d="M432.5 186.2C432.5 188.0 432.9 193.5 432.7 197.0C432.5 200.5 432.0 203.7 431.5 207.0C431.0 210.3 430.3 213.7 429.5 217.0C428.7 220.3 427.8 223.7 426.5 227.0C425.2 230.3 423.2 234.0 421.5 237.0C419.8 240.0 417.9 242.5 416.5 245.0C415.1 247.5 414.1 250.0 413.0 252.0C411.9 254.0 411.2 255.7 410.0 257.0C408.8 258.3 407.5 259.1 406.0 260.0C404.5 260.9 403.3 261.8 401.2 262.6C399.2 263.5 396.7 264.4 393.8 265.1C390.8 265.8 387.1 266.6 383.8 267.0C380.4 267.4 377.1 267.7 373.8 267.6C370.4 267.5 366.9 267.1 363.8 266.4C360.6 265.7 357.5 264.6 355.0 263.2C352.5 261.9 350.6 260.3 348.8 258.2C346.9 256.2 345.2 253.2 343.8 250.8C342.3 248.2 341.5 245.3 340.0 243.2C338.5 241.2 336.7 239.5 335.0 238.2C333.3 237.0 332.0 237.0 330.0 235.8C328.0 234.5 324.9 232.5 323.0 231.0C321.1 229.5 319.3 228.0 318.5 227.0C317.7 226.0 318.1 225.3 318.0 225.0" stroke-width="2.44"/>
<path d="M334.5 218.5C334.6 219.1 334.7 220.8 335.0 222.0C335.3 223.2 335.2 224.2 336.2 225.8C337.3 227.3 339.6 229.3 341.2 231.4C342.9 233.5 344.8 235.9 346.2 238.2C347.7 240.6 348.3 243.5 350.0 245.8C351.7 248.0 354.0 250.2 356.2 252.0C358.5 253.8 361.0 255.4 363.8 256.4C366.5 257.4 369.6 257.6 372.5 258.2C375.4 258.9 379.8 259.8 381.2 260.1" stroke-width="1.83"/>
<path d="M386.2 258.2C387.3 257.7 390.6 256.2 392.5 255.1C394.4 254.0 396.2 252.4 397.5 251.4C398.8 250.4 399.6 249.3 400.0 248.9" stroke-width="1.83"/>
<path d="M282.5 288.3C282.2 288.9 282.3 290.9 280.8 291.7C279.3 292.5 276.8 292.8 273.3 293.3C269.8 293.8 263.6 294.3 260.0 294.7C256.4 295.1 253.8 295.1 251.7 295.8C249.6 296.6 248.2 297.8 247.5 299.2C246.8 300.6 246.8 302.9 247.5 304.2C248.2 305.4 249.3 306.3 251.7 306.7C254.1 307.1 258.4 306.6 261.7 306.3C265.0 306.0 268.8 305.5 271.7 305.0C274.6 304.5 277.9 303.6 279.2 303.3" stroke-width="2.68"/>
<path d="M285.8 296.7C285.1 297.8 283.1 301.1 281.7 303.3C280.3 305.5 278.6 308.3 277.5 310.0C276.4 311.7 275.4 312.8 275.0 313.3" stroke-width="2.20"/>
<path d="M285.0 310.0C286.1 310.1 289.2 310.1 291.7 310.8C294.2 311.5 297.4 313.4 300.0 314.2C302.6 315.0 306.2 315.5 307.5 315.8" stroke-width="2.20"/>
<path d="M319.2 295.0C318.8 296.1 317.7 299.2 316.7 301.7C315.7 304.2 314.6 307.6 313.3 310.0C312.1 312.4 310.0 314.1 309.2 315.8C308.4 317.5 308.6 318.6 308.3 320.0C308.0 321.4 307.6 323.5 307.5 324.2" stroke-width="2.44"/>
<path d="M212.5 378.2C212.5 377.4 212.1 374.9 212.5 373.2C212.9 371.5 214.2 369.9 215.2 368.0C216.2 366.1 217.2 363.8 218.3 361.5C219.4 359.2 220.5 357.4 222.0 354.5C223.5 351.6 225.6 347.4 227.5 344.2C229.4 340.9 231.2 337.8 233.3 335.0C235.4 332.2 237.8 329.7 240.0 327.5C242.2 325.3 244.3 323.3 246.7 321.7C249.1 320.1 251.7 319.0 254.2 318.0C256.7 317.0 259.1 316.4 261.7 315.8C264.3 315.2 267.4 314.8 270.0 314.5C272.6 314.2 274.8 314.2 277.0 314.3C279.2 314.4 281.3 314.6 283.3 315.0C285.3 315.4 286.6 315.8 288.8 316.8C291.0 317.8 294.0 319.6 296.7 320.8C299.4 322.0 302.2 322.8 305.0 324.2C307.8 325.6 310.5 327.6 313.3 329.2C316.1 330.8 319.2 332.4 322.0 334.0C324.8 335.6 327.0 337.0 330.0 338.8C333.0 340.5 336.7 342.3 340.0 344.4C343.3 346.5 346.7 348.8 350.0 351.2C353.3 353.8 357.1 356.9 360.0 359.4C362.9 361.9 365.2 363.6 367.5 366.2C369.8 368.9 371.7 371.8 373.8 375.0C375.8 378.2 377.9 382.1 380.0 385.8C382.1 389.4 384.5 393.2 386.2 397.0C388.0 400.8 389.4 404.5 390.3 408.2C391.2 412.0 391.5 416.4 391.7 419.5C391.9 422.6 391.3 425.8 391.2 427.0" stroke-width="2.81"/>
<path d="M226.0 370.5C226.4 369.4 227.4 366.2 228.3 364.0C229.2 361.8 230.4 359.0 231.3 357.0C232.2 355.0 233.1 352.8 233.5 352.0" stroke-width="1.71"/>
<path d="M233.5 352.0C233.9 351.0 235.0 347.9 236.0 346.0C237.0 344.1 237.5 343.0 239.2 340.5C241.0 338.0 244.1 333.4 246.7 330.8C249.3 328.2 251.9 326.5 255.0 325.0C258.1 323.5 261.7 322.2 265.0 321.7C268.3 321.1 271.9 321.1 275.0 321.7C278.1 322.2 280.5 323.5 283.3 325.0C286.1 326.5 288.4 328.9 291.7 330.8C295.0 332.8 299.7 334.8 303.3 336.7C306.9 338.6 310.5 340.6 313.3 342.5C316.1 344.4 318.1 346.4 320.0 348.3C321.9 350.2 322.5 351.7 325.0 353.8C327.5 355.9 331.7 358.7 335.0 360.7C338.3 362.7 341.7 363.8 345.0 365.7C348.3 367.6 351.9 370.1 355.0 372.3C358.1 374.5 360.8 376.5 363.3 379.0C365.8 381.5 367.8 384.2 370.0 387.3C372.2 390.4 374.8 394.0 376.7 397.3C378.6 400.6 380.4 404.2 381.7 407.3C382.9 410.4 383.6 412.6 384.2 415.7C384.8 418.8 384.9 424.3 385.0 426.0" stroke-width="3.05"/>
<path d="M212.5 378.2C212.9 378.8 213.8 380.5 215.0 381.5C216.2 382.5 218.1 382.8 220.0 384.0C221.9 385.2 224.5 387.1 226.7 389.0C228.9 390.9 231.4 393.5 233.3 395.7C235.2 397.9 236.6 400.2 238.3 402.3C240.0 404.4 241.4 406.4 243.3 408.2C245.2 410.0 247.5 411.8 250.0 413.2C252.5 414.6 255.5 415.9 258.3 416.5C261.1 417.1 264.2 416.9 266.7 416.5C269.2 416.1 271.5 414.3 273.3 414.0C275.1 413.7 276.4 414.0 277.5 414.8C278.6 415.6 279.3 417.1 280.0 419.0C280.7 420.9 281.4 424.8 281.7 426.0" stroke-width="2.81"/>
<path d="M215.0 381.5C214.4 382.1 212.1 383.6 211.7 384.8C211.3 386.1 211.8 387.6 212.5 389.0C213.2 390.4 214.7 391.9 215.8 393.2C216.9 394.4 219.0 395.8 219.2 396.5C219.3 397.2 217.9 398.0 216.7 397.7C215.4 397.4 213.4 395.4 211.7 394.8C210.0 394.2 207.9 393.6 206.7 394.0C205.4 394.4 204.8 395.9 204.2 397.3C203.6 398.7 203.2 400.6 203.3 402.3C203.4 404.0 204.2 406.0 205.0 407.3C205.8 408.6 208.0 409.5 208.3 410.3C208.6 411.1 207.3 411.6 206.7 412.3C206.1 413.1 205.0 413.8 204.8 414.8C204.7 415.8 205.1 417.2 205.8 418.2C206.5 419.1 208.8 419.5 209.2 420.5C209.6 421.5 208.9 422.9 208.5 424.0C208.1 425.1 207.2 426.5 207.0 427.0" stroke-width="2.68"/>
<path d="M220.0 384.0C220.7 385.0 223.0 387.9 224.0 389.8C225.0 391.8 225.8 393.4 225.8 395.7C225.9 398.0 225.2 401.1 224.3 403.5C223.4 405.9 221.8 407.8 220.5 410.0C219.2 412.2 217.8 414.7 216.5 417.0C215.2 419.3 213.8 422.3 213.0 424.0C212.2 425.7 212.2 426.5 212.0 427.0" stroke-width="1.95"/>
<path d="M227.5 393.0C227.5 394.3 227.9 398.5 227.3 401.0C226.7 403.5 225.2 405.8 224.0 408.0C222.8 410.2 220.7 413.4 220.0 414.5" stroke-width="1.46"/>
<path d="M239.2 404.0C238.5 405.1 236.4 408.3 235.0 410.7C233.6 413.1 232.1 415.6 230.8 418.2C229.6 420.8 228.1 424.7 227.5 426.0" stroke-width="2.20"/>
<path d="M269.2 330.0C269.5 331.4 270.1 335.5 270.8 338.3C271.5 341.1 272.3 343.6 273.3 346.7C274.3 349.8 275.7 352.3 276.7 356.7C277.7 361.1 278.6 368.4 279.2 373.3C279.8 378.2 280.3 382.2 280.5 386.0C280.7 389.8 280.3 394.3 280.3 396.0" stroke-width="1.59"/>
<path d="M295.0 336.7C294.2 337.8 291.5 340.8 290.0 343.3C288.5 345.8 286.9 348.8 285.8 351.7C284.7 354.6 283.7 359.3 283.3 360.8" stroke-width="1.59"/>
<path d="M240.0 341.7L242.5 345.0M244.2 335.8L247.5 340.0M248.3 331.7L252.5 336.7M253.3 328.3L258.3 334.2M258.3 325.8L263.3 330.8M264.2 324.2L269.2 329.2M269.2 323.3L274.2 328.3M274.2 323.3L278.3 327.5M278.3 324.2L280.8 328.3" stroke-width="1.46"/>
<path d="M282.5 410.7C282.8 411.6 284.1 414.5 284.5 416.0C284.9 417.5 284.9 419.2 285.0 419.8M285.8 409.8C286.1 410.7 287.4 413.5 287.8 415.0C288.2 416.5 288.2 418.3 288.3 419.0M289.2 409.8C289.4 410.5 290.3 412.6 290.6 414.0C290.9 415.4 290.8 417.5 290.8 418.2" stroke-width="1.59"/>
<path d="M302.5 338.3C303.8 340.2 308.1 346.1 310.0 350.0C311.9 353.9 313.5 358.4 314.2 361.7C314.9 365.0 314.2 368.6 314.2 370.0M305.8 340.8C307.2 342.9 312.2 349.3 314.2 353.3C316.1 357.3 317.1 361.2 317.5 365.0C317.9 368.8 316.8 374.0 316.7 375.8M310.8 344.2C312.1 346.3 316.6 352.7 318.3 356.7C320.0 360.7 320.5 364.7 320.8 368.3C321.1 371.9 320.1 376.6 320.0 378.3" stroke-width="1.59"/>
<path d="M323.3 358.3C323.6 360.6 324.9 367.9 325.0 372.3C325.1 376.7 324.3 382.7 324.2 384.8M330.0 361.5C330.1 363.6 331.1 370.0 330.8 374.0C330.5 378.0 328.7 383.8 328.3 385.7M335.8 364.0C335.8 366.2 336.4 373.0 335.8 377.3C335.2 381.6 333.1 387.7 332.5 389.8M341.7 367.3C341.6 369.5 341.6 376.4 340.8 380.7C340.0 385.0 337.4 391.1 336.7 393.2M348.3 370.7C347.9 372.9 346.8 380.1 345.8 384.0C344.8 387.9 343.1 392.3 342.5 394.0M354.2 374.8C353.8 376.9 352.7 383.6 351.7 387.3C350.7 391.1 348.9 395.6 348.3 397.3M359.2 379.0C358.6 380.9 357.2 386.9 355.8 390.7C354.4 394.4 351.6 399.7 350.8 401.5M364.2 383.2C363.6 385.0 362.1 390.8 360.8 394.0C359.6 397.2 357.4 400.9 356.7 402.3M368.3 388.2C367.8 389.7 366.2 394.7 365.0 397.3C363.8 399.9 361.5 402.9 360.8 404.0M372.5 394.0C371.9 395.2 370.4 399.4 369.2 401.5C367.9 403.6 365.7 405.7 365.0 406.5M375.8 399.8C375.2 400.8 373.9 404.0 372.5 405.7C371.1 407.4 368.3 409.1 367.5 409.8M378.3 404.8C377.8 405.6 376.5 408.4 375.0 409.8C373.5 411.2 370.2 412.6 369.2 413.2M380.8 409.8C380.1 410.5 378.5 412.9 376.7 414.0C374.9 415.1 371.1 416.1 370.0 416.5M382.5 414.8C381.7 415.4 379.9 417.4 377.5 418.2C375.1 419.0 369.8 419.5 368.3 419.8M383.3 419.8C382.5 420.1 381.1 420.9 378.3 421.5C375.5 422.1 368.6 422.9 366.7 423.2" stroke-width="1.34"/>
<path d="M311.7 354.0C312.2 355.7 314.2 360.4 315.0 364.0C315.8 367.6 316.4 373.8 316.7 375.7M317.5 355.7C318.1 357.6 320.1 363.4 320.8 367.3C321.5 371.2 321.6 377.1 321.7 379.0" stroke-width="1.34"/>
<path d="M52.5 89.5L83.0 56.0" stroke-width="1.22"/>
<path d="M84.6 54.2L82.5 60.5L78.6 57.0Z" class="f" stroke-width="0.30"/>
<path d="M108.0 159.3L163.0 159.3" stroke-width="1.22"/>
<path d="M167.0 159.3L160.5 157.0L160.5 161.6Z" class="f" stroke-width="0.30"/>
<path d="M104.0 205.4L244.0 205.4" stroke-width="1.22"/>
<path d="M248.0 205.4L241.5 203.1L241.5 207.7Z" class="f" stroke-width="0.30"/>
<path d="M396.5 197.6L351.0 190.6" stroke-width="1.22"/>
<path d="M347.3 190.0L353.4 188.6L352.7 193.2Z" class="f" stroke-width="0.30"/>
<path d="M352.3 279.5L311.5 215.5" stroke-width="1.22"/>
<path d="M309.5 212.0L315.2 216.5L311.2 219.0Z" class="f" stroke-width="0.30"/>
<path d="M150.0 355.5L202.5 370.0" stroke-width="1.22"/>
<path d="M206.3 371.0L199.6 371.6L200.8 367.1Z" class="f" stroke-width="0.30"/>
<path d="M149.5 397.0L192.5 394.3" stroke-width="1.22"/>
<path d="M196.4 394.0L190.2 396.8L189.9 392.2Z" class="f" stroke-width="0.30"/>
<path d="M385.5 354.3L376.0 363.3" stroke-width="1.22"/>
<path d="M373.3 365.8L376.5 359.8L379.6 363.2Z" class="f" stroke-width="0.30"/>
<path d="M434.8 408.8L401.0 423.6" stroke-width="1.22"/>
<path d="M397.5 425.1L402.5 420.5L404.4 424.7Z" class="f" stroke-width="0.30"/>
<path d="M275.5 10.5L276.1 16.0M278.2 11.3L278.8 16.8M280.9 12.1L281.5 17.6M283.6 12.9L284.2 18.4" stroke-width="1.16"/>
<path d="M333.5 11.0L332.3 16.5M336.2 10.1L335.0 15.6M338.9 9.2L337.7 14.7M341.6 8.3L340.4 13.8" stroke-width="1.16"/>
<path d="M277.5 18.0L278.1 23.0M280.2 19.1L280.8 24.1M282.9 20.2L283.5 25.2M285.6 21.3L286.2 26.3" stroke-width="1.16"/>
<path d="M329.0 21.5L327.5 26.5M331.8 20.5L330.3 25.5M334.6 19.5L333.1 24.5M337.4 18.5L335.9 23.5" stroke-width="1.16"/>
<path d="M274.5 31.0L275.1 36.5M277.2 32.3L277.8 37.8M279.9 33.6L280.5 39.1M282.6 34.9L283.2 40.4" stroke-width="1.16"/>
<path d="M326.0 35.5L324.5 30.5M328.8 34.5L327.3 29.5M331.6 33.5L330.1 28.5M334.4 32.5L332.9 27.5M337.2 31.5L335.7 26.5" stroke-width="1.16"/>
<path d="M277.0 40.0L277.6 45.5M279.7 41.4L280.3 46.9M282.4 42.8L283.0 48.3M285.1 44.2L285.7 49.7" stroke-width="1.16"/>
<path d="M325.0 45.0L323.5 50.5M327.8 43.8L326.3 49.3M330.6 42.6L329.1 48.1M333.4 41.4L331.9 46.9M336.2 40.2L334.7 45.7" stroke-width="1.16"/>
<path d="M277.5 59.5L278.1 65.0M280.2 60.5L280.8 66.0M282.9 61.5L283.5 67.0M285.6 62.5L286.2 68.0" stroke-width="1.16"/>
<path d="M326.0 63.5L324.5 58.5M328.8 62.4L327.3 57.4M331.6 61.3L330.1 56.3M334.4 60.2L332.9 55.2" stroke-width="1.16"/>
<path d="M280.0 69.5L280.6 75.0M282.7 70.5L283.3 76.0M285.4 71.5L286.0 77.0M288.1 72.5L288.7 78.0" stroke-width="1.16"/>
<path d="M326.0 71.0L324.5 76.5M328.8 69.8L327.3 75.3M331.6 68.6L330.1 74.1M334.4 67.4L332.9 72.9" stroke-width="1.16"/>
<path d="M282.0 80.5L282.6 86.0M284.7 81.8L285.3 87.3M287.4 83.1L288.0 88.6M290.1 84.4L290.7 89.9" stroke-width="1.16"/>
<path d="M325.0 86.5L323.5 81.5M327.8 85.3L326.3 80.3M330.6 84.1L329.1 79.1M333.4 82.9L331.9 77.9" stroke-width="1.16"/>
<path d="M285.0 91.0L285.6 96.5M287.7 92.2L288.3 97.7M290.4 93.4L291.0 98.9M293.1 94.6L293.7 100.1" stroke-width="1.16"/>
<path d="M322.5 96.5L321.0 101.5M325.3 95.3L323.8 100.3M328.1 94.1L326.6 99.1M330.9 92.9L329.4 97.9" stroke-width="1.16"/>
<path d="M262.0 66.5L261.2 70.0M264.6 66.8L263.8 70.3M267.2 67.1L266.4 70.6M269.8 67.4L269.0 70.9M272.4 67.7L271.6 71.2" stroke-width="1.22"/>
<path d="M267.0 87.0L266.2 90.5M269.6 87.3L268.8 90.8M272.2 87.6L271.4 91.1M274.8 87.9L274.0 91.4M277.4 88.2L276.6 91.7" stroke-width="1.22"/>
<path d="M256.0 36.0L255.2 39.5M258.6 36.0L257.8 39.5M261.2 36.0L260.4 39.5M263.8 36.0L263.0 39.5M266.4 36.0L265.6 39.5" stroke-width="1.22"/>
<path d="M340.0 90.0L340.8 93.5M342.6 89.7L343.4 93.2M345.2 89.4L346.0 92.9M347.8 89.1L348.6 92.6M350.4 88.8L351.2 92.3" stroke-width="1.22"/>
<path d="M279.5 0.0L280.0 3.5M282.1 0.4L282.6 3.9M284.7 0.8L285.2 4.3M287.3 1.2L287.8 4.7" stroke-width="1.22"/>
<path d="M334.0 1.0L333.2 5.0M336.6 0.6L335.8 4.6M339.2 0.2L338.4 4.2M341.8 -0.2L341.0 3.8" stroke-width="1.22"/>
<path d="M201.2 51.5C201.8 51.1 203.2 49.7 204.5 49.2C205.8 48.8 207.7 48.6 209.0 48.8C210.3 49.0 211.8 50.0 212.3 50.3" stroke-width="3.66"/>
</g>
<g class="labels">
<text x="64.0" y="103.1" text-anchor="middle">Anterior</text>
<text x="64.0" y="117.7" text-anchor="middle">Superior</text>
<text x="64.0" y="131.9" text-anchor="middle">Iliac Spine</text>
<text x="40.0" y="162.6" text-anchor="start">Acetabulum</text>
<text x="74.5" y="195.3" text-anchor="middle">Obturator</text>
<text x="74.5" y="209.8" text-anchor="middle">Foramen</text>
<text x="174.2" y="131.6" text-anchor="start">Pubic</text>
<text x="183.7" y="145.6" text-anchor="start">Bone</text>
<text x="247.5" y="142.3" text-anchor="start">Coccyx</text>
<text x="439.1" y="81.6" text-anchor="middle">Ischial</text>
<text x="438.8" y="96.2" text-anchor="middle">Spine</text>
<text x="398.0" y="203.0" text-anchor="start">Pubic</text>
<text x="393.8" y="217.3" text-anchor="start">Crest</text>
<text x="540.5" y="230.0" text-anchor="middle">Coxal Bone</text>
<text x="540.5" y="244.3" text-anchor="middle">(Hip Bone)</text>
<text x="310.7" y="252.7" text-anchor="middle">Pubic</text>
<text x="310.5" y="267.0" text-anchor="middle">Arch</text>
<text x="368.0" y="285.5" text-anchor="middle">Pubic</text>
<text x="368.0" y="300.3" text-anchor="middle">Symphysis</text>
<text x="193.5" y="227.5" text-anchor="start">Ischium</text>
<text x="117.0" y="330.5" text-anchor="middle">Posterior</text>
<text x="117.0" y="345.0" text-anchor="middle">Superior</text>
<text x="117.0" y="359.6" text-anchor="middle">Iliac Spine</text>
<text x="102.5" y="400.1" text-anchor="start">Sacrum</text>
<text x="401.3" y="338.5" text-anchor="middle">Iliac</text>
<text x="401.5" y="353.0" text-anchor="middle">Crest</text>
<text x="486.0" y="409.0" text-anchor="middle">Anterior Superior</text>
<text x="486.2" y="423.4" text-anchor="middle">Iliac Spine</text>
<text x="232.5" y="430.8" text-anchor="start">Greater</text>
</g>
</svg>
</body></html>
